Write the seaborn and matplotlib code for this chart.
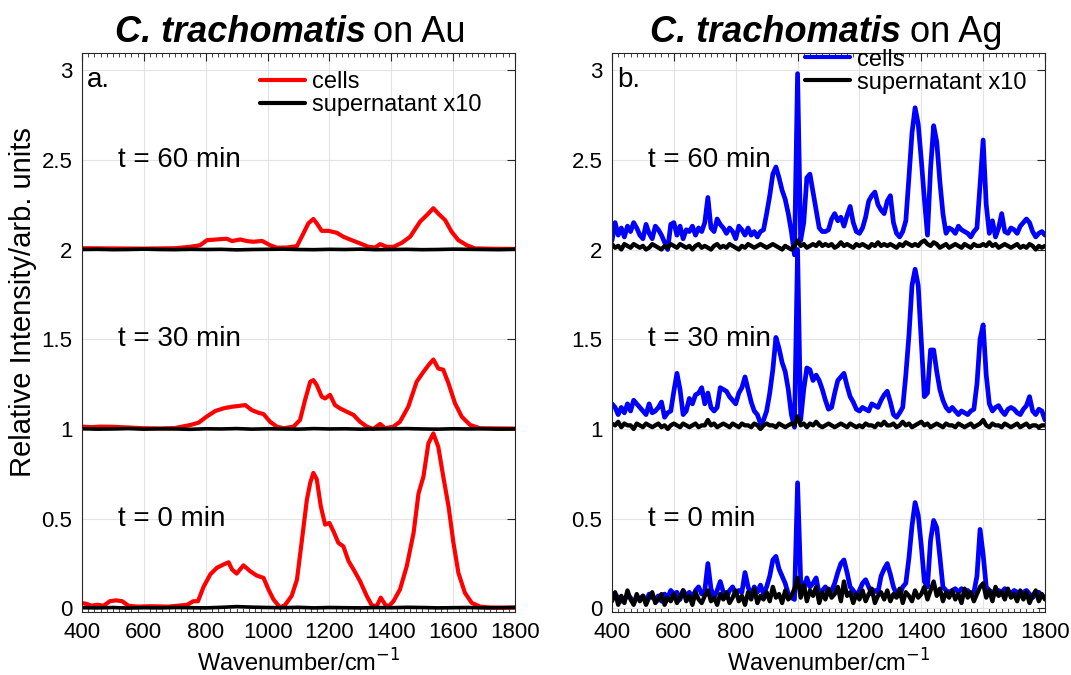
import numpy as np
import pandas as pd
import matplotlib
matplotlib.use("Agg")
import matplotlib.pyplot as plt
import seaborn as sns
from matplotlib.lines import Line2D
from matplotlib.ticker import MultipleLocator

# ---------------- data ----------------
# Panel a (Au) - cells, relative to their own baseline
au_t0_wn = [400,415,430,450,470,490,510,530,550,580,620,680,740,760,775,793,815,836,858,874,
            885,900,922,944,965,987,1003,1019,1041,1057,1078,1095,1111,1127,1138,1148,1159,1172,1186,1200,
            1213,1229,1245,1262,1278,1299,1321,1337,1353,1366,1380,1391,1407,1428,1450,1472,1488,1504,1520,1536,
            1552,1568,1585,1601,1617,1638,1660,1687,1720,1760,1800]
au_t0_cells = [0.03,0.025,0.015,0.02,0.015,0.04,0.045,0.04,0.015,0.01,0.012,0.01,0.02,0.04,0.04,0.12,0.19,0.226,0.245,0.257,
               0.217,0.194,0.24,0.207,0.183,0.17,0.105,0.05,0.004,0.02,0.07,0.16,0.38,0.605,0.70,0.755,0.72,0.57,0.467,0.476,
               0.43,0.365,0.346,0.263,0.217,0.152,0.068,0.017,0.013,0.06,0.022,0.01,0.04,0.105,0.235,0.42,0.64,0.735,0.92,0.975,
               0.90,0.735,0.57,0.365,0.198,0.087,0.031,0.01,0.005,0.004,0.005]

au_t30_wn = [400,430,460,500,550,600,650,700,750,777,804,831,858,885,906,928,949,971,987,1008,
             1030,1052,1084,1105,1121,1138,1148,1159,1175,1186,1202,1218,1234,1256,1278,1299,1321,1342,1364,1380,
             1407,1428,1455,1482,1504,1520,1536,1552,1568,1585,1606,1628,1655,1687,1740,1800]
au_t30_cells = [0.013,0.01,0.013,0.012,0.008,0.004,0.003,0.005,0.022,0.035,0.07,0.10,0.115,0.124,0.128,0.133,0.105,0.09,0.083,0.04,
                0.013,0.004,0.013,0.05,0.16,0.263,0.272,0.245,0.18,0.17,0.19,0.133,0.115,0.096,0.078,0.04,0.013,0.0,0.028,0.004,
                0.013,0.04,0.124,0.263,0.318,0.355,0.387,0.337,0.33,0.254,0.143,0.068,0.022,0.004,0.003,0.002]

au_t60_wn = [400,500,600,700,750,782,804,836,868,885,912,933,955,982,1008,1030,1062,1095,1116,1132,
             1148,1159,1175,1197,1224,1245,1272,1299,1326,1348,1364,1385,1407,1434,1461,1493,1515,1536,1552,1574,
             1595,1617,1644,1671,1730,1800]
au_t60_cells = [0.007,0.006,0.005,0.007,0.015,0.024,0.052,0.056,0.06,0.047,0.056,0.047,0.043,0.048,0.024,0.01,0.011,0.019,0.09,0.146,
                0.17,0.146,0.104,0.104,0.093,0.071,0.052,0.034,0.015,0.011,0.03,0.015,0.015,0.037,0.071,0.155,0.192,0.23,0.2,0.164,
                0.099,0.052,0.024,0.006,0.004,0.003]

# Au supernatant (x10), sampled every 50 cm-1
au_sup_wn = list(range(400, 1801, 50))
au_t0_sup = [0.004,0.003,0.005,0.002,0.004,0.003,0.005,0.004,0.003,0.006,0.010,0.007,0.005,0.004,0.006,
             0.003,0.005,0.004,0.003,0.005,0.004,0.006,0.005,0.003,0.004,0.005,0.003,0.004,0.005]
au_t30_sup = [0.001,-0.001,0.000,0.002,-0.001,0.001,0.000,-0.002,0.001,0.000,0.002,-0.001,0.001,0.000,-0.001,
              0.002,0.000,0.001,-0.001,0.000,0.001,0.002,0.000,-0.001,0.001,0.000,0.001,-0.001,0.000]
au_t60_sup = [0.000,0.001,-0.001,0.000,0.002,0.000,-0.001,0.001,0.000,0.001,-0.002,0.000,0.001,0.002,0.000,
              -0.001,0.001,0.000,0.002,-0.001,0.000,0.001,-0.001,0.000,0.002,0.001,0.000,-0.001,0.001]

# Panel b (Ag), sampled every 10 cm-1 from 400 to 1800
ag_wn = list(range(400, 1801, 10))
ag_t60_cells = [0.05,0.15,0.08,0.12,0.07,0.13,0.10,0.15,0.12,0.08,
                0.06,0.14,0.09,0.06,0.13,0.11,0.08,0.04,0.00,0.14,
                0.15,0.08,0.13,0.06,0.11,0.10,0.13,0.08,0.12,0.10,
                0.15,0.29,0.12,0.10,0.17,0.14,0.12,0.09,0.12,0.10,
                0.06,0.13,0.11,0.08,0.12,0.08,0.10,0.07,0.10,0.11,
                0.20,0.30,0.42,0.46,0.40,0.33,0.28,0.20,0.10,-0.03,
                0.98,0.05,0.15,0.40,0.42,0.32,0.22,0.12,0.10,0.10,
                0.11,0.17,0.20,0.16,0.18,0.13,0.19,0.24,0.15,0.10,
                0.09,0.12,0.18,0.27,0.30,0.32,0.25,0.22,0.20,0.27,
                0.30,0.15,0.09,0.07,0.10,0.16,0.40,0.65,0.79,0.70,
                0.50,0.28,0.08,0.45,0.69,0.60,0.38,0.20,0.09,0.12,
                0.11,0.09,0.13,0.11,0.10,0.09,0.07,0.10,0.12,0.36,
                0.61,0.25,0.09,0.16,0.07,0.12,0.20,0.10,0.09,0.12,
                0.11,0.09,0.13,0.15,0.17,0.15,0.10,0.07,0.09,0.10,
                0.08]
ag_t30_cells = [0.14,0.12,0.08,0.12,0.09,0.14,0.10,0.16,0.14,0.12,
                0.10,0.08,0.14,0.09,0.10,0.12,0.15,0.065,0.09,0.10,
                0.21,0.31,0.22,0.08,0.10,0.17,0.14,0.19,0.20,0.23,
                0.14,0.20,0.12,0.10,0.12,0.23,0.22,0.21,0.18,0.16,
                0.14,0.20,0.23,0.29,0.22,0.15,0.10,0.08,0.03,0.05,
                0.10,0.20,0.33,0.51,0.45,0.37,0.32,0.22,0.08,0.01,
                1.00,0.05,0.22,0.34,0.33,0.27,0.30,0.27,0.22,0.16,
                0.11,0.12,0.20,0.27,0.29,0.31,0.24,0.18,0.15,0.11,
                0.10,0.12,0.11,0.10,0.14,0.13,0.12,0.16,0.19,0.21,
                0.15,0.08,0.065,0.09,0.12,0.30,0.52,0.80,0.89,0.80,
                0.49,0.18,0.20,0.44,0.44,0.32,0.22,0.16,0.12,0.10,
                0.12,0.10,0.08,0.10,0.09,0.08,0.10,0.11,0.25,0.50,
                0.58,0.30,0.14,0.10,0.12,0.13,0.10,0.08,0.11,0.12,
                0.11,0.09,0.08,0.11,0.13,0.18,0.10,0.08,0.11,0.10,
                0.05]
ag_t0_cells = [0.07,0.08,0.06,0.04,0.05,0.07,0.06,0.03,0.06,0.05,
               0.07,0.04,0.08,0.06,0.05,0.07,0.04,0.08,0.06,0.10,
               0.08,0.09,0.05,0.10,0.07,0.09,0.06,0.10,0.12,0.08,
               0.10,0.25,0.11,0.06,0.10,0.15,0.09,0.06,0.10,0.12,
               0.08,0.10,0.09,0.20,0.12,0.07,0.12,0.09,0.13,0.08,
               0.12,0.18,0.27,0.29,0.22,0.18,0.14,0.08,0.06,0.05,
               0.70,0.16,0.10,0.17,0.12,0.14,0.17,0.08,0.10,0.12,
               0.08,0.10,0.14,0.20,0.25,0.27,0.20,0.12,0.10,0.07,
               0.10,0.14,0.16,0.12,0.08,0.10,0.09,0.18,0.22,0.25,
               0.19,0.12,0.08,0.07,0.12,0.14,0.28,0.46,0.59,0.52,
               0.35,0.15,0.12,0.38,0.49,0.45,0.29,0.12,0.10,0.09,
               0.10,0.11,0.09,0.11,0.10,0.10,0.08,0.09,0.18,0.44,
               0.30,0.12,0.10,0.09,0.08,0.10,0.09,0.11,0.10,0.08,
               0.10,0.09,0.07,0.09,0.10,0.08,0.06,0.08,0.09,0.07,
               0.06]
ag_t60_sup = [0.03,0.01,0.02,0.00,0.03,0.02,0.01,0.03,0.02,0.01,
              0.02,0.00,0.01,0.03,0.02,0.01,0.00,0.02,0.01,0.03,
              0.02,0.01,0.03,0.02,0.01,0.02,0.00,0.02,0.03,0.01,
              0.02,0.01,0.00,0.02,0.03,0.01,0.02,0.01,0.03,0.02,
              0.01,0.00,0.02,0.01,0.03,0.02,0.01,0.02,0.03,0.02,
              0.01,0.02,0.03,0.02,0.01,0.00,0.02,0.01,0.00,0.02,
              0.05,0.02,0.03,0.01,0.02,0.03,0.02,0.04,0.02,0.03,
              0.02,0.03,0.01,0.02,0.04,0.02,0.03,0.02,0.01,0.03,
              0.02,0.03,0.02,0.01,0.03,0.02,0.04,0.02,0.03,0.02,
              0.03,0.02,0.01,0.03,0.02,0.04,0.03,0.02,0.03,0.02,
              0.04,0.05,0.03,0.02,0.04,0.03,0.01,0.02,0.03,0.01,
              0.02,0.03,0.02,0.01,0.03,0.02,0.01,0.03,0.02,0.02,
              0.03,0.02,0.04,0.02,0.03,0.01,0.02,0.03,0.02,0.01,
              0.02,0.03,0.01,0.02,0.01,0.03,0.02,0.00,0.02,0.01,
              0.02]
ag_t30_sup = [0.03,0.02,0.04,0.01,0.03,0.02,0.02,0.00,0.03,0.02,
              0.01,0.03,0.02,0.01,0.02,0.03,0.01,0.02,0.00,0.02,
              0.03,0.02,0.01,0.03,0.02,0.01,0.02,0.03,0.01,0.02,
              0.02,0.05,0.02,0.03,0.01,0.02,0.03,0.02,0.01,0.03,
              0.02,0.01,0.03,0.02,0.02,0.01,0.03,0.02,0.00,0.02,
              0.03,0.02,0.02,0.01,0.03,0.02,0.01,0.02,0.03,0.02,
              0.07,0.02,0.03,0.01,0.03,0.02,0.04,0.02,0.01,0.02,
              0.03,0.02,0.01,0.02,0.03,0.02,0.01,0.03,0.02,0.01,
              0.02,0.01,0.03,0.02,0.02,0.01,0.03,0.02,0.04,0.02,
              0.02,0.03,0.01,0.02,0.04,0.02,0.03,0.01,0.02,0.03,
              0.04,0.02,0.03,0.01,0.02,0.03,0.02,0.01,0.03,0.02,
              0.02,0.01,0.03,0.02,0.01,0.02,0.03,0.01,0.02,0.03,
              0.05,0.02,0.01,0.03,0.02,0.02,0.01,0.03,0.02,0.01,
              0.02,0.03,0.01,0.02,0.03,0.01,0.02,0.02,0.01,0.02,
              0.02]
ag_t0_sup = [0.04,0.09,0.02,0.07,0.03,0.10,0.05,0.02,0.08,0.04,
             0.07,0.02,0.06,0.09,0.03,0.05,0.08,0.02,0.06,0.04,
             0.08,0.03,0.06,0.10,0.04,0.07,0.02,0.09,0.05,0.03,
             0.07,0.10,0.04,0.06,0.02,0.08,0.05,0.09,0.03,0.06,
             0.10,0.04,0.07,0.02,0.09,0.05,0.11,0.03,0.07,0.05,
             0.09,0.04,0.12,0.06,0.08,0.03,0.10,0.05,0.07,0.11,
             0.17,0.06,0.13,0.04,0.10,0.07,0.12,0.03,0.09,0.05,
             0.11,0.06,0.08,0.12,0.04,0.15,0.07,0.09,0.03,0.08,
             0.05,0.10,0.04,0.08,0.11,0.03,0.07,0.09,0.05,0.10,
             0.04,0.08,0.06,0.11,0.03,0.09,0.07,0.04,0.10,0.06,
             0.08,0.12,0.05,0.10,0.15,0.07,0.11,0.04,0.09,0.06,
             0.10,0.05,0.08,0.03,0.11,0.06,0.09,0.04,0.08,0.12,
             0.14,0.06,0.10,0.04,0.12,0.07,0.09,0.05,0.11,0.06,
             0.08,0.04,0.10,0.05,0.09,0.03,0.07,0.10,0.04,0.08,
             0.05]

offsets = [0, 1, 2]
time_labels = ["t = 0 min", "t = 30 min", "t = 60 min"]
ytick_vals = [0, 0.5, 1, 1.5, 2, 2.5, 3]
ytick_labels = ["0", "0.5", "1", "1.5", "2", "2.5", "3"]
xtick_vals = [400, 600, 800, 1000, 1200, 1400, 1600, 1800]
legend_labels = ["cells", "supernatant x10"]

for s in [ag_t60_cells, ag_t30_cells, ag_t0_cells, ag_t60_sup, ag_t30_sup, ag_t0_sup]:
    assert len(s) == len(ag_wn), len(s)
assert len(au_t0_wn) == len(au_t0_cells)
assert len(au_t30_wn) == len(au_t30_cells)
assert len(au_t60_wn) == len(au_t60_cells)

# ---------------- style ----------------
sns.set_theme(style="white")
plt.rcParams['font.family'] = ['Liberation Sans', 'DejaVu Sans']
plt.rcParams['text.color'] = 'black'
plt.rcParams['axes.labelcolor'] = 'black'
plt.rcParams['xtick.color'] = 'black'
plt.rcParams['ytick.color'] = 'black'

W, H = 1071, 675
fig = plt.figure(figsize=(W / 100, H / 100), dpi=100)
ax_a = fig.add_axes([82 / W, (H - 612) / H, 433 / W, 559 / H])
ax_b = fig.add_axes([612 / W, (H - 612) / H, 433 / W, 559 / H])


def draw_panel(ax, cells, sups, cell_color, letter, lw_c, lw_s):
    for (wn, vals), off in zip(cells, offsets):
        sns.lineplot(x=np.asarray(wn), y=np.asarray(vals) + off, ax=ax, color=cell_color,
                     linewidth=lw_c, estimator=None, sort=False, legend=False)
    for (wn, vals), off in zip(sups, offsets):
        sns.lineplot(x=np.asarray(wn), y=np.asarray(vals) + off, ax=ax, color='black',
                     linewidth=lw_s, estimator=None, sort=False, legend=False)
    ax.set_xlim(400, 1800)
    ax.set_ylim(-0.02, 3.095)
    ax.set_xticks(xtick_vals)
    ax.set_yticks(ytick_vals)
    ax.set_yticklabels(ytick_labels)
    ax.xaxis.set_minor_locator(MultipleLocator(20))
    ax.tick_params(which='major', direction='in', top=True, right=True, length=6,
                   width=0.8, labelsize=16, colors='#262626', labelcolor='black', pad=7)
    ax.tick_params(which='minor', direction='in', top=True, bottom=True, length=3,
                   width=0.6, colors='#262626')
    ax.grid(True, which='major', color='#e3e3e3', linewidth=0.8)
    ax.set_axisbelow(True)
    for sp in ax.spines.values():
        sp.set_linewidth(0.8)
        sp.set_color('#262626')
    ax.set_xlabel("Wavenumber/cm$^{-1}$", fontsize=17, labelpad=5)
    ax.set_ylabel("")
    for off, lab in zip(offsets, time_labels):
        ax.text(516, off + 0.5, lab, fontsize=20, ha='left', va='center')
    ax.text(416, 2.944, letter, fontsize=20, ha='left', va='center')


draw_panel(ax_a,
           [(au_t0_wn, au_t0_cells), (au_t30_wn, au_t30_cells), (au_t60_wn, au_t60_cells)],
           [(au_sup_wn, au_t0_sup), (au_sup_wn, au_t30_sup), (au_sup_wn, au_t60_sup)],
           '#ff0000', 'a.', 3.0, 2.6)
draw_panel(ax_b,
           [(ag_wn, ag_t0_cells), (ag_wn, ag_t30_cells), (ag_wn, ag_t60_cells)],
           [(ag_wn, ag_t0_sup), (ag_wn, ag_t30_sup), (ag_wn, ag_t60_sup)],
           '#0000ff', 'b.', 3.4, 3.1)

ax_a.set_ylabel("Relative Intensity/arb. units", fontsize=21)
ax_a.yaxis.set_label_coords(-0.105, 0.555)

# legends
for ax, col, anchor in [(ax_a, '#ff0000', (0.411, 0.968)), (ax_b, '#0000ff', (0.446, 1.008))]:
    handles = [Line2D([], [], color=col, lw=3.0), Line2D([], [], color='black', lw=3.0)]
    ax.legend(handles, legend_labels, loc='upper left', bbox_to_anchor=anchor, frameon=False,
              fontsize=17, handlelength=1.9, handletextpad=0.3, labelspacing=0.05,
              borderpad=0, borderaxespad=0)

# titles
fig.text(366 / W, (H - 42) / H, "C. trachomatis", fontsize=26, fontweight='bold',
         fontstyle='italic', ha='right', va='baseline')
fig.text(373 / W, (H - 42) / H, "on Au", fontsize=26, ha='left', va='baseline')
fig.text(901 / W, (H - 42) / H, "C. trachomatis", fontsize=26, fontweight='bold',
         fontstyle='italic', ha='right', va='baseline')
fig.text(910 / W, (H - 42) / H, "on Ag", fontsize=26, ha='left', va='baseline')

fig.savefig("out.png", dpi=100, facecolor='white')
